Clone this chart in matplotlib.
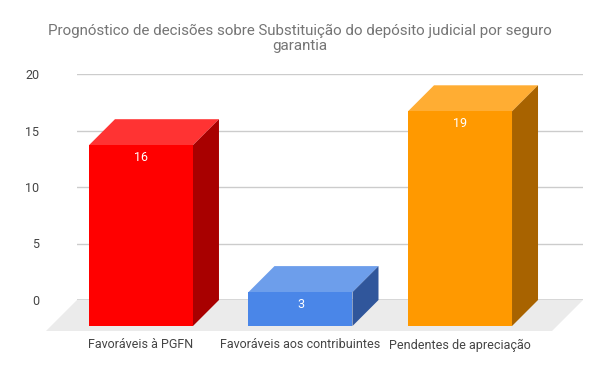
import numpy as np
import matplotlib.pyplot as plt
from matplotlib.patches import Polygon
from matplotlib.transforms import ScaledTranslation, blended_transform_factory

plt.rcParams['font.family'] = ['Roboto', 'DejaVu Sans']

title = "Prognóstico de decisões sobre Substituição do depósito judicial por seguro\ngarantia"
categories = ["Favoráveis à PGFN", "Favoráveis aos contribuintes", "Pendentes de apreciação"]
values = [16, 3, 19]
front_colors = ["#ff0000", "#4a86e8", "#ff9900"]
top_colors = ["#ff3333", "#6d9eeb", "#ffad33"]
side_colors = ["#a80000", "#30569b", "#a86300"]
yticks = [0, 5, 10, 15, 20]

fig = plt.figure(figsize=(6, 3.71), dpi=100)
# axes = back plane of the 3D box (pixel 77..583 wide, y=0 at 300px, y=20 at 74px)
ax = fig.add_axes([77 / 600, 71 / 371, 506 / 600, 226 / 371])
ax.set_xlim(-0.564, 2.608)
ax.set_ylim(0, 20)
for s in ax.spines.values():
    s.set_visible(False)
ax.set_xticks([])
ax.set_yticks(yticks)
ax.tick_params(axis='y', length=0, pad=27, labelsize=9, labelcolor='#444444')

depth = 26 / 100      # bar depth in inches
fdepth = 31 / 100     # floor depth
front = ax.transData + ScaledTranslation(-depth, -depth, fig.dpi_scale_trans)

# floor
xl, xr = ax.get_xlim()
floor_tr = ax.transData + ScaledTranslation(-fdepth, -fdepth, fig.dpi_scale_trans)
p0 = ax.transData.transform([(xl, 0), (xr, 0)])
p1 = floor_tr.transform([(xr, 0), (xl, 0)])
inv = ax.transData.inverted()
floor = Polygon(inv.transform(np.vstack([p0, p1])), closed=True, facecolor='#ebebeb',
                edgecolor='none', clip_on=False, zorder=0)
ax.add_patch(floor)

for y in yticks[1:]:
    ax.axhline(y, color='#cccccc', lw=1, zorder=1)
ax.axhline(0, color='#333333', lw=1, zorder=2)

w = 0.652
for i, v in enumerate(values):
    x0, x1 = i - w / 2, i + w / 2
    back = ax.transData.transform([(x0, v), (x1, v), (x1, 0)])
    frt = front.transform([(x0, 0), (x0, v), (x1, v), (x1, 0)])
    top = inv.transform([frt[1], back[0], back[1], frt[2]])
    side = inv.transform([frt[2], back[1], back[2], frt[3]])
    face = inv.transform(frt)
    ax.add_patch(Polygon(top, closed=True, facecolor=top_colors[i], edgecolor='none',
                         clip_on=False, zorder=3))
    ax.add_patch(Polygon(side, closed=True, facecolor=side_colors[i], edgecolor='none',
                         clip_on=False, zorder=3))
    ax.add_patch(Polygon(face, closed=True, facecolor=front_colors[i], edgecolor='none',
                         clip_on=False, zorder=4))
    lab_tr = front + ScaledTranslation(0, -12 / 100, fig.dpi_scale_trans)
    ax.text(i, v, str(v), transform=lab_tr, ha='center', va='center', color='white',
            fontsize=9, zorder=5)
    cat_tr = blended_transform_factory(ax.transData, ax.transAxes) + \
        ScaledTranslation(-depth, -45 / 100, fig.dpi_scale_trans)
    ax.text(i, 0, categories[i], transform=cat_tr, ha='center', va='center',
            color='#444444', fontsize=9)

fig.text(0.5, 1 - 38 / 371, title, ha='center', va='center', color='#757575',
         fontsize=10.9, linespacing=1.1)

fig.savefig('out.png', dpi=100)
